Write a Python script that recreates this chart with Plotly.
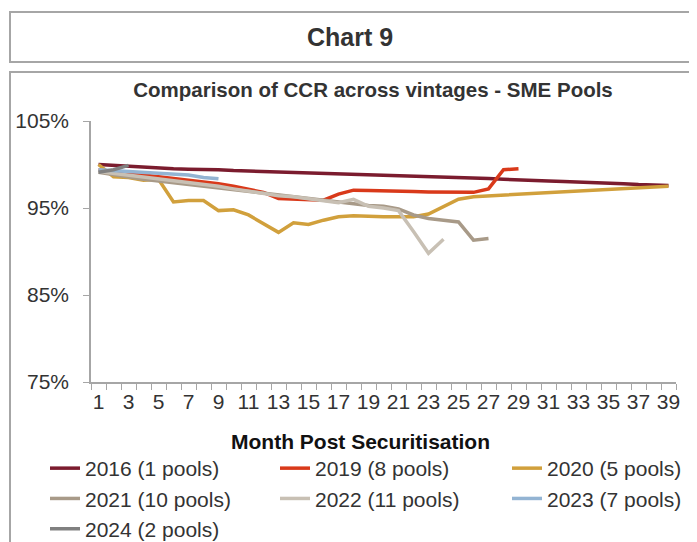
import plotly.graph_objects as go

months = list(range(1, 40))

s2016 = [100.0, 99.9, 99.8, 99.6, 99.5, 99.5, 99.45, 99.45, 99.4, 99.3, 99.25, 99.2, 99.1,
         99.05, 99.0, 98.95, 98.9, 98.85, 98.8, 98.75, 98.7, 98.65, 98.6, 98.55, 98.5, 98.45,
         98.4, 98.3, 98.2, 98.15, 98.1, 98.05, 98.0, 97.95, 97.9, 97.8, 97.7, 97.65, 97.6]
s2019 = [99.4, 99.2, 99.0, 98.9, 98.7, 98.5, 98.3, 98.1, 97.8, 97.5, 97.2, 96.8, 96.1,
         96.0, 96.0, 95.9, 96.6, 97.05, 97.0, 97.0, 97.0, 96.9, 96.85, 96.85, 96.8, 96.8,
         97.2, 99.4, 99.5]
s2020 = [100.0, 98.6, 98.5, 98.2, 98.3, 95.7, 95.85, 95.85, 94.7, 94.8, 94.2, 93.2, 92.2,
         93.3, 93.1, 93.6, 94.0, 94.1, 94.0, 94.0, 94.0, 94.0, 94.3, 95.2, 96.0, 96.3, 96.4,
         96.5, 96.6, 96.7, 96.8, 96.9, 97.0, 97.1, 97.2, 97.3, 97.4, 97.45, 97.5]
s2021 = [99.1, 98.8, 98.6, 98.3, 98.1, 97.9, 97.7, 97.5, 97.3, 97.1, 96.9, 96.6, 96.4,
         96.3, 96.1, 95.9, 95.6, 95.4, 95.3, 95.2, 94.9, 94.2, 93.8, 93.6, 93.4, 91.3, 91.5]
s2022 = [99.2, 99.0, 98.8, 98.6, 98.4, 98.2, 98.0, 97.7, 97.5, 97.2, 96.9, 96.6, 96.4,
         96.3, 96.1, 95.9, 95.6, 96.0, 95.2, 95.0, 94.7, 92.3, 89.8, 91.4]
s2023 = [99.4, 99.3, 99.2, 99.2, 99.1, 99.0, 98.8, 98.5, 98.35]
s2024 = [99.1, 99.4, 99.9]

names = ["2016 (1 pools)", "2019 (8 pools)", "2020 (5 pools)", "2021 (10 pools)",
         "2022 (11 pools)", "2023 (7 pools)", "2024 (2 pools)"]
series = [s2016, s2019, s2020, s2021, s2022, s2023, s2024]
colors = ["#7B1C2E", "#D9391A", "#D1A03C", "#A89A88", "#C8C0B4", "#93B4D3", "#808080"]
# legend laid out in three columns, as in the reference
legend_ids = ["legend", "legend2", "legend3", "legend", "legend2", "legend3", "legend"]

x_ticks = list(range(1, 40, 2))
y_ticks = [75, 85, 95, 105]
y_labels = ["75%", "85%", "95%", "105%"]

FONT = "Liberation Sans, Arial, sans-serif"
TXT = "#333333"
GRID = "#A6A6A6"

OFF = 8                      # page body margin of the browser
W, H = 697 - OFF, 542 - OFF  # figure size so that it fits the window
# plot area in window pixels
L, R, T, B = 91, 676, 121, 382


def px(x):
    return (x - L) / (R - L)


def py(y):
    return (B - y) / (B - T)


fig = go.Figure()
for name, vals, col, lg in zip(names, series, colors, legend_ids):
    fig.add_trace(go.Scatter(
        x=months[:len(vals)], y=vals, mode="lines", name=name,
        line=dict(color=col, width=3.5), legend=lg,
    ))

legend_common = dict(orientation="v", font=dict(family=FONT, size=21, color=TXT),
                     bgcolor="rgba(0,0,0,0)", xanchor="left", yanchor="top",
                     y=py(448), itemclick=False, itemdoubleclick=False)

fig.update_layout(
    width=W, height=H,
    margin=dict(l=L - OFF, r=W - (R - OFF), t=T - OFF, b=H - (B - OFF), autoexpand=False),
    paper_bgcolor="white", plot_bgcolor="white",
    showlegend=True,
    title=dict(text="<b>Comparison of CCR across vintages - SME Pools</b>",
               x=(373 - OFF) / W, xref="container", xanchor="center",
               y=1 - (90 - OFF) / H, yref="container", yanchor="middle",
               font=dict(family=FONT, size=20.5, color=TXT)),
    xaxis=dict(range=[0.5, 39.5], tickmode="array", tickvals=x_ticks,
               ticktext=[str(v) for v in x_ticks], ticks="", tickangle=0,
               showline=True, linecolor=GRID, linewidth=1.5, showgrid=False,
               zeroline=False, tickfont=dict(family=FONT, size=21, color=TXT),
               minor=dict(tick0=0.5, dtick=1, ticks="outside", ticklen=6,
                          tickcolor=GRID, tickwidth=1, showgrid=False)),
    yaxis=dict(range=[75, 105], tickmode="array", tickvals=y_ticks, ticktext=y_labels,
               ticks="outside", ticklen=6, tickcolor=GRID, showline=True,
               linecolor=GRID, linewidth=1.5, showgrid=False, zeroline=False,
               ticklabelstandoff=10,
               tickfont=dict(family=FONT, size=21, color=TXT)),
    legend=dict(x=px(45), **legend_common),
    legend2=dict(x=px(275), **legend_common),
    legend3=dict(x=px(507), **legend_common),
)

# x-axis title (centred as in the reference, left of the plot-area centre)
fig.add_annotation(text="<b>Month Post Securitisation</b>", xref="paper", yref="paper",
                   x=px(360), y=py(441), showarrow=False, xanchor="center",
                   yanchor="middle", font=dict(family=FONT, size=21, color="#111111"))

# frames around the title and the chart
fig.add_shape(type="rect", xref="paper", yref="paper",
              x0=px(10), x1=px(720), y0=py(62), y1=py(12),
              line=dict(color=GRID, width=2), fillcolor="rgba(0,0,0,0)", layer="below")
fig.add_shape(type="rect", xref="paper", yref="paper",
              x0=px(10), x1=px(720), y0=py(580), y1=py(72),
              line=dict(color=GRID, width=2), fillcolor="rgba(0,0,0,0)", layer="below")

fig.add_annotation(text="<b>Chart 9</b>", xref="paper", yref="paper",
                   x=px(350), y=py(37), showarrow=False, xanchor="center", yanchor="middle",
                   font=dict(family=FONT, size=25, color=TXT))

fig.write_html("out.html")
